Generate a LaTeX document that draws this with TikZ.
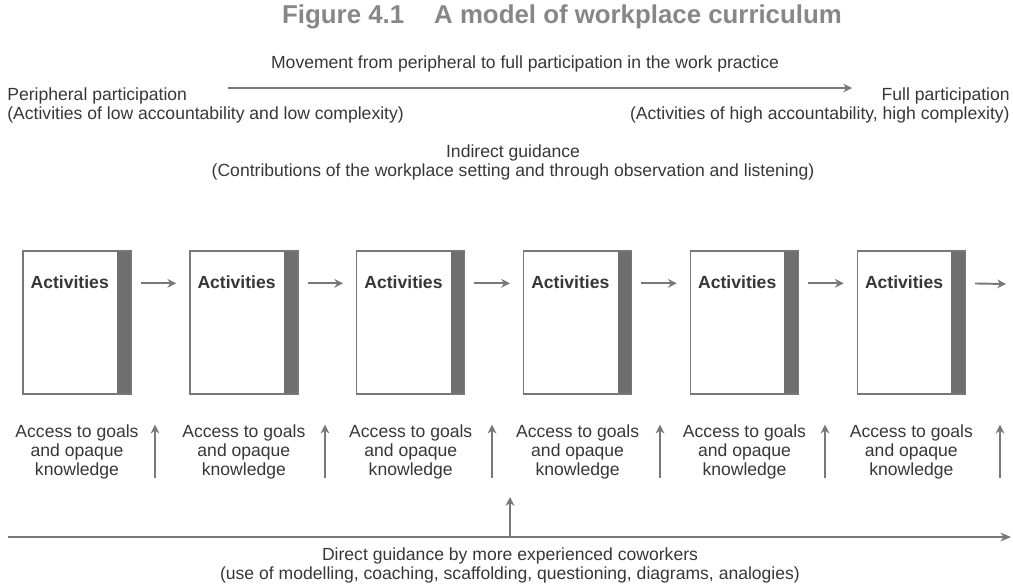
\documentclass[tikz,border=0pt]{standalone}
\usepackage{fontspec}
\setmainfont{Liberation Sans}
\usepackage{tikz}
\usetikzlibrary{arrows.meta, positioning}
\definecolor{mytext}{RGB}{55,55,55}
\definecolor{mygrey}{RGB}{120,120,120}
\definecolor{mybar}{RGB}{110,110,110}
\definecolor{mytitle}{RGB}{135,135,135}
\tikzset{
  actbox/.style={rectangle, draw=mygrey, fill=white, line width=0.8pt,
    minimum width=2.16cm, minimum height=2.86cm, inner sep=0pt,
    path picture={\fill[mybar] ([xshift=-0.28cm]path picture bounding box.north east)
      rectangle (path picture bounding box.south east);},
    label={[font=\fontsize{10}{10.8}\selectfont\bfseries, text=mytext,
      anchor=north west, inner sep=0pt, xshift=0.16cm, yshift=-0.5cm]north west:Activities}},
  txt/.style={font=\fontsize{10}{10.8}\selectfont, text=mytext,
    align=center, inner sep=0pt},
  arrow/.style={-{Stealth[length=5pt, width=5pt]}, line width=1.1pt, color=mygrey},
  boxarrow/.style={arrow, shorten <=0.18cm, shorten >=0.26cm},
  mainarrow/.style={-{Stealth[length=6pt, width=5pt]}, line width=1.4pt, color=mygrey}
}
\begin{document}
\begin{tikzpicture}[x=0.02cm, y=0.02cm, node distance=0.6cm and 1.15cm]
  \useasboundingbox (0,0) rectangle (1013,-586);
  % title and movement
  \node[font=\fontsize{14.7}{16}\selectfont\bfseries, text=mytitle] (title) at (562,-17)
    {Figure 4.1\hspace{0.6cm}A model of workplace curriculum};
  \node[txt] (move) at (525,-64)
    {Movement from peripheral to full participation in the work practice};
  \node[txt, align=left, anchor=north west] (pp) at (7,-87)
    {Peripheral participation\\(Activities of low accountability and low complexity)};
  \node[txt, align=right, anchor=north east] (fp) at (1010,-87)
    {Full participation\\(Activities of high accountability, high complexity)};
  \coordinate (m1) at (228,-88);
  \coordinate (m2) at (852,-88);
  \draw[arrow] (m1)--(m2);
  \node[txt] (ind) at (513,-162)
    {Indirect guidance\\(Contributions of the workplace setting and through observation and listening)};
  % activities
  \node[actbox] (b1) at (77,-322.5) {};
  \node[actbox, right=of b1] (b2) {};
  \node[actbox, right=of b2] (b3) {};
  \node[actbox, right=of b3] (b4) {};
  \node[actbox, right=of b4] (b5) {};
  \node[actbox, right=of b5] (b6) {};
  \coordinate (e6) at (1006,-284);
  \draw[boxarrow] ([yshift=-0.66cm]b1.north east)--([yshift=-0.66cm]b2.north west);
  \draw[boxarrow] ([yshift=-0.66cm]b2.north east)--([yshift=-0.66cm]b3.north west);
  \draw[boxarrow] ([yshift=-0.66cm]b3.north east)--([yshift=-0.66cm]b4.north west);
  \draw[boxarrow] ([yshift=-0.66cm]b4.north east)--([yshift=-0.66cm]b5.north west);
  \draw[boxarrow] ([yshift=-0.66cm]b5.north east)--([yshift=-0.66cm]b6.north west);
  \draw[arrow, shorten <=0.18cm] ([yshift=-0.66cm]b6.north east)--(e6);
  % access to goals
  \node[txt, below=of b1] (a1) {Access to goals\\and opaque\\knowledge};
  \node[txt, below=of b2] (a2) {Access to goals\\and opaque\\knowledge};
  \node[txt, below=of b3] (a3) {Access to goals\\and opaque\\knowledge};
  \node[txt, below=of b4] (a4) {Access to goals\\and opaque\\knowledge};
  \node[txt, below=of b5] (a5) {Access to goals\\and opaque\\knowledge};
  \node[txt, below=of b6] (a6) {Access to goals\\and opaque\\knowledge};
  \coordinate (k1) at (155,-478);
  \coordinate (k2) at (325,-478);
  \coordinate (k3) at (492,-478);
  \coordinate (k4) at (660,-478);
  \coordinate (k5) at (825,-478);
  \coordinate (k6) at (1000,-478);
  \draw[arrow] (k1)--(k1 |- a1.north);
  \draw[arrow] (k2)--(k2 |- a2.north);
  \draw[arrow] (k3)--(k3 |- a3.north);
  \draw[arrow] (k4)--(k4 |- a4.north);
  \draw[arrow] (k5)--(k5 |- a5.north);
  \draw[arrow] (k6)--(k6 |- a6.north);
  % direct guidance
  \coordinate (dl) at (8,-537);
  \coordinate (dr) at (1011,-537);
  \coordinate (dtop) at (510,-497);
  \draw[mainarrow] (dl)--(dr);
  \draw[arrow] (dtop |- dl)--(dtop);
  \node[txt] (dg) at (510,-565)
    {Direct guidance by more experienced coworkers\\(use of modelling, coaching, scaffolding, questioning, diagrams, analogies)};
\end{tikzpicture}
\end{document}
